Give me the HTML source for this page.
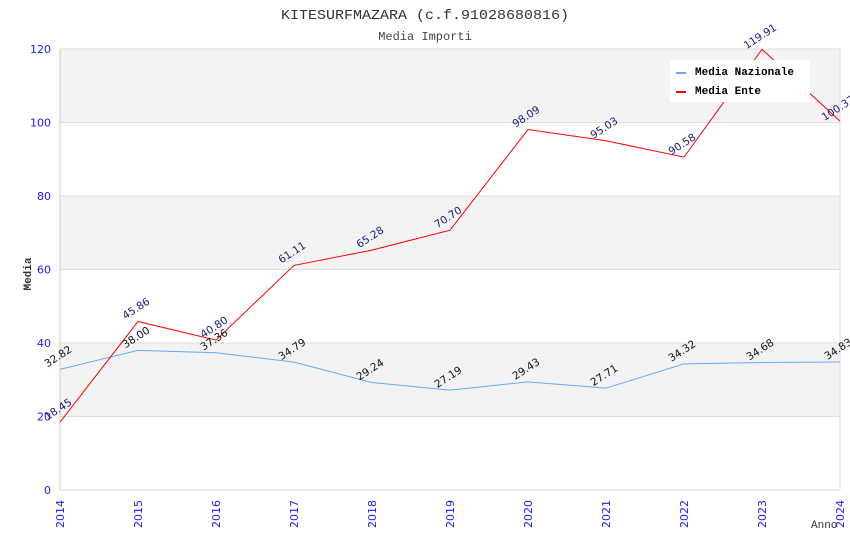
<!DOCTYPE html>
<html><head><meta charset="utf-8"><style>
body{margin:0;background:#fff;width:850px;height:550px;overflow:hidden}
svg{display:block}
</style></head><body>
<svg id="chart" width="850" height="550" xmlns="http://www.w3.org/2000/svg">
<text x="425" y="19" text-anchor="middle" font-family="Liberation Mono, monospace" font-size="14" fill="#333" textLength="288" lengthAdjust="spacingAndGlyphs">KITESURFMAZARA (c.f.91028680816)</text>
<text x="425" y="40" text-anchor="middle" font-family="Liberation Mono, monospace" font-size="12" fill="#444">Media Importi</text>
<g id="bands"></g>
<g id="axes"></g>
<g id="series"></g>
<g id="labels"></g>
<text x="27" y="270" transform="rotate(-90 31 270)" text-anchor="middle" font-family="Liberation Mono, monospace" font-size="11" font-weight="bold" fill="#333">Media</text>
<text x="811" y="528" font-family="Liberation Mono, monospace" font-size="11" fill="#333">Anno</text>
<g>
<rect x="670" y="60" width="140" height="42" fill="#fff"/>
<g><rect x="676" y="72" width="10" height="2" fill="#66aaff"/><text x="695" y="75" font-family="Liberation Mono, monospace" font-size="11" font-weight="bold" fill="#000">Media Nazionale</text></g>
<g><rect x="676" y="91" width="10" height="2" fill="#ff0000"/><text x="695" y="94" font-family="Liberation Mono, monospace" font-size="11" font-weight="bold" fill="#000">Media Ente</text></g>
</g>
</svg>
<script>
const years = ["2014","2015","2016","2017","2018","2019","2020","2021","2022","2023","2024"];
const nazionale = [32.82,38.00,37.36,34.79,29.24,27.19,29.43,27.71,34.32,34.68,34.83];
const ente = [18.45,45.86,40.80,61.11,65.28,70.70,98.09,95.03,90.58,119.91,100.37];
const yTicks = [0,20,40,60,80,100,120];
const NS="http://www.w3.org/2000/svg";
const L=60,R=840,T=49,B=490,YMAX=120;
const xs=i=>L+i*(R-L)/(years.length-1);
const ys=v=>B-v*(B-T)/YMAX;
function mk(t,a,p){const e=document.createElementNS(NS,t);for(const k in a)e.setAttribute(k,a[k]);p.appendChild(e);return e;}
const bands=document.getElementById('bands'),axes=document.getElementById('axes'),series=document.getElementById('series'),labels=document.getElementById('labels');
for(let i=0;i<yTicks.length-1;i++){
  if(i%2===1){const r=mk('rect',{x:L,y:ys(yTicks[i+1]),width:R-L,height:ys(yTicks[i])-ys(yTicks[i+1]),fill:'#f3f3f3'},bands);
  
  }
}
yTicks.forEach(v=>{
  const l=mk('line',{x1:L,x2:R,y1:ys(v),y2:ys(v),stroke:'#ddd','stroke-width':1},axes);
  
  
  const t=mk('text',{x:51,y:ys(v)+4,'text-anchor':'end','font-family':'DejaVu Sans, sans-serif','font-size':11,fill:'#1a1aff'},axes);
  t.textContent=v;
  
  
});
mk('line',{x1:L,x2:L,y1:T,y2:B,stroke:'#ccc'},axes);
mk('line',{x1:R,x2:R,y1:T,y2:B,stroke:'#ddd'},axes);
years.forEach((y,i)=>{
  const t=mk('text',{x:0,y:0,transform:`translate(${xs(i)+4},${B+38}) rotate(-90)`,'font-family':'DejaVu Sans, sans-serif','font-size':11,fill:'#1a1aff'},axes);
  t.textContent=y;
  
  
});
function drawSeries(vals,color,lc,name){
  const p=mk('polyline',{points:vals.map((v,i)=>xs(i)+','+ys(v)).join(' '),fill:'none',stroke:color,'stroke-width':1},series);
  
  
  vals.forEach((v,i)=>{
    const t=mk('text',{x:0,y:0,transform:`translate(${xs(i)},${ys(v)-10}) rotate(-33)`,'text-anchor':'middle','font-family':'DejaVu Sans, sans-serif','font-size':10.5,fill:lc},labels);
    t.textContent=v.toFixed(2);
    
    
  });
}
drawSeries(nazionale,'#66aaff','#111','media-nazionale');
drawSeries(ente,'#ff0000','#1a1a80','media-ente');
</script>
</body></html>
